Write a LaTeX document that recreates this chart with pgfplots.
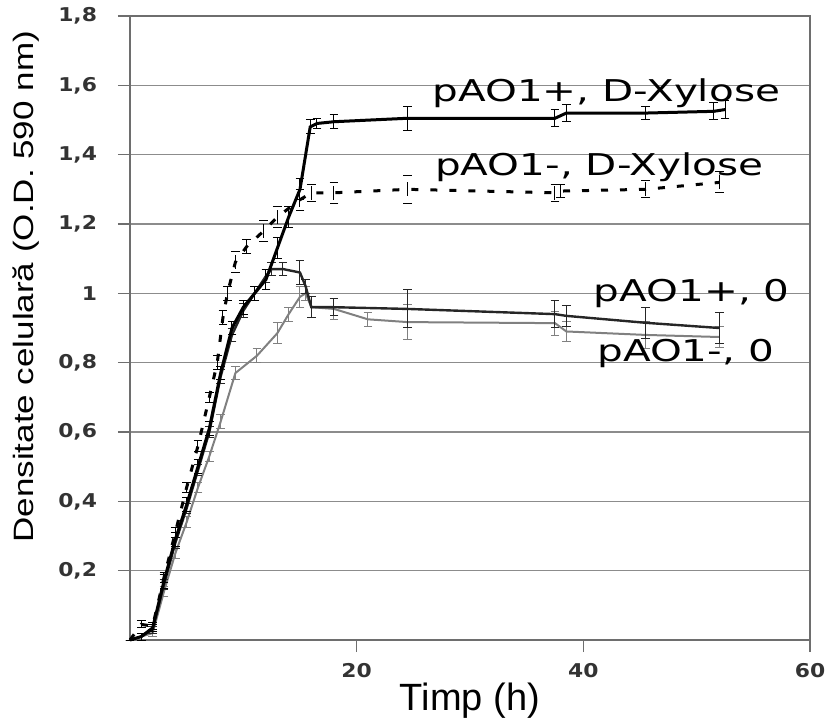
\documentclass[border=0pt]{standalone}
\usepackage{fontspec}
\setmainfont{Liberation Sans}
\newfontfamily\lblfont[FakeStretch=1.35]{DejaVu Sans}
\newfontfamily\tickfont[FakeStretch=1.15]{DejaVu Sans}
\newfontfamily\ylabfont[FakeStretch=1.25]{Liberation Sans}
\usepackage{pgfplots}
\pgfplotsset{compat=1.18}
\definecolor{gridgray}{HTML}{8C8C8C}
\definecolor{axgray}{HTML}{6E6E6E}
\definecolor{linegray}{HTML}{808080}

% pAO1+, D-Xylose
\pgfplotstableread{
t v e
0 0 0
1 0.01 0.01
2 0.035 0.01
3 0.17 0.02
4 0.29 0.02
5 0.39 0.02
6 0.50 0.02
7 0.61 0.02
8 0.77 0.02
9 0.90 0.02
10 0.96 0.02
11 1.00 0.02
12 1.04 0.03
13 1.13 0.03
14 1.22 0.03
15 1.30 0.03
15.9 1.48 0.02
16.5 1.49 0.015
18 1.495 0.02
24.5 1.505 0.035
37.5 1.505 0.025
38.5 1.52 0.025
45.5 1.52 0.02
51.5 1.525 0.025
52.5 1.53 0.025
}\xylplus
% pAO1-, D-Xylose
\pgfplotstableread{
t v e
0 0 0
1 0.045 0.01
2 0.04 0.01
3 0.18 0.015
4 0.31 0.015
5 0.44 0.015
6 0.56 0.015
7 0.70 0.015
7.7 0.80 0.02
8.2 0.93 0.02
8.6 1.00 0.02
9.3 1.09 0.03
10.3 1.135 0.02
11.8 1.18 0.03
13 1.22 0.03
15 1.27 0.03
16 1.29 0.025
18 1.29 0.03
24.5 1.30 0.04
37.5 1.29 0.025
38 1.295 0.02
45.5 1.30 0.025
52 1.32 0.03
}\xylminus
% pAO1+, 0
\pgfplotstableread{
t v e
0 0 0
1 0.01 0.01
2 0.03 0.01
3 0.16 0.015
4 0.28 0.015
5 0.38 0.015
6 0.49 0.015
7 0.60 0.015
8 0.76 0.02
9 0.88 0.02
10 0.95 0.02
11 1.00 0.02
12 1.05 0.02
12.5 1.07 0.02
13.5 1.07 0.02
15 1.06 0.035
15.5 1.02 0.02
16 0.96 0.03
18 0.96 0.025
24.5 0.955 0.055
37.5 0.94 0.04
38.5 0.935 0.03
45.5 0.915 0.045
52 0.90 0.045
}\zeroplus
% pAO1-, 0
\pgfplotstableread{
t v e
0 0 0
1 0.01 0.01
2 0.02 0.01
3 0.14 0.015
4 0.25 0.015
5 0.34 0.015
6 0.44 0.015
7 0.53 0.015
8 0.63 0.02
9.3 0.77 0.02
11.2 0.82 0.02
13 0.885 0.03
14 0.94 0.02
15 0.99 0.03
15.5 1.00 0.02
16 0.96 0.03
18 0.955 0.03
21 0.925 0.02
24.5 0.917 0.05
37.5 0.914 0.035
38.5 0.89 0.03
45.5 0.88 0.04
52 0.874 0.03
}\zerominus

\begin{document}
\begin{tikzpicture}
\useasboundingbox (-65bp,-44bp) rectangle (348.5bp,320bp);
\begin{axis}[
  at={(0,0)}, anchor=south west,
  scale only axis, width=340bp, height=312bp,
  xmin=0, xmax=60, ymin=0, ymax=1.8,
  xtick={20,40,60},
  ytick={0.2,0.4,0.6,0.8,1,1.2,1.4,1.6,1.8},
  ymajorgrids,
  grid style={gridgray, line width=0.8bp},
  axis line style={axgray, line width=0.8bp},
  tick style={axgray, line width=0.7bp},
  tick align=outside, major tick length=6bp,
  tick pos=left,
  /pgf/number format/.cd, use comma, assume math mode=true, /pgfplots/.cd,
  ticklabel style={font=\tickfont\bfseries\fontsize{9.5bp}{11bp}\selectfont, text=black!80},
  yticklabel style={xshift=-7bp},
  xticklabel style={yshift=-2bp},
  xlabel={Timp (h)},
  xlabel style={font=\fontsize{19bp}{22bp}\selectfont, at={(axis description cs:0.5,-0.098)}, anchor=center},
  ylabel={Densitate celulară (O.D. 590 nm)},
  ylabel style={font=\ylabfont\fontsize{14bp}{16bp}\selectfont, at={(axis description cs:-0.153,0.566)}, anchor=center},
  error bars/y dir=both, error bars/y explicit,
  error bars/error bar style={line width=0.5bp},
  error bars/error mark options={rotate=90, line width=0.5bp, mark size=2.2bp},
  every axis plot/.append style={mark=none},
  clip=false,
]
\addplot[linegray, line width=1bp] table[x=t, y=v, y error=e] {\zerominus};
\addplot[black!85, line width=1.2bp] table[x=t, y=v, y error=e] {\zeroplus};
\addplot[black, line width=1.5bp, dash pattern=on 3.5bp off 6bp] table[x=t, y=v, y error=e] {\xylminus};
\addplot[black, line width=1.5bp] table[x=t, y=v, y error=e] {\xylplus};

\node[anchor=base west, inner sep=0, font=\lblfont\fontsize{15bp}{18bp}\selectfont] at (axis cs:26.65,1.552) {pAO1+, D-Xylose};
\node[anchor=base west, inner sep=0, font=\lblfont\fontsize{15bp}{18bp}\selectfont] at (axis cs:26.9,1.341) {pAO1-, D-Xylose};
\node[anchor=base west, inner sep=0, font=\lblfont\fontsize{15bp}{18bp}\selectfont] at (axis cs:40.9,0.975) {pAO1+, 0};
\node[anchor=base west, inner sep=0, font=\lblfont\fontsize{15bp}{18bp}\selectfont] at (axis cs:41.2,0.802) {pAO1-, 0};
\end{axis}
\end{tikzpicture}
\end{document}
